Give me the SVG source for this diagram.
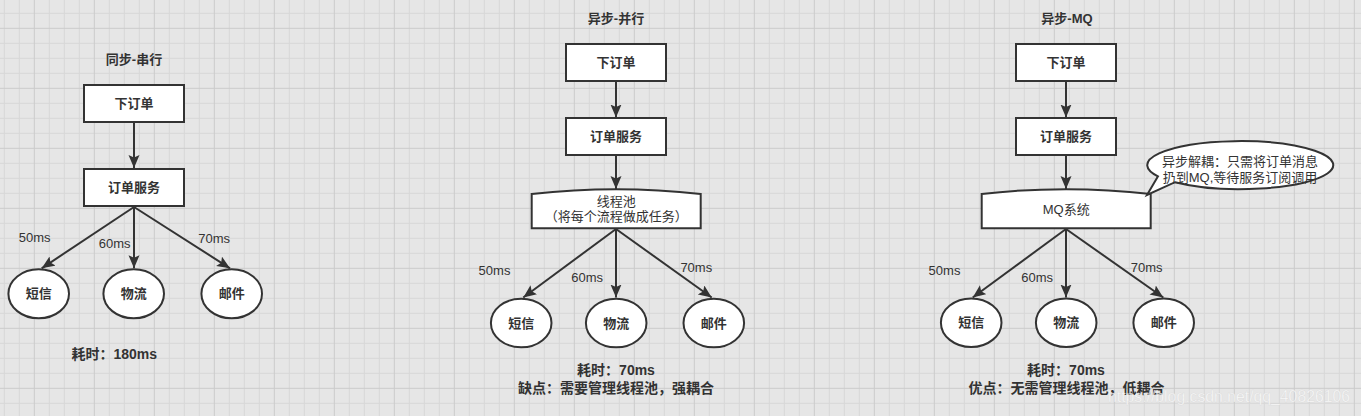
<svg xmlns="http://www.w3.org/2000/svg" width="1361" height="416" viewBox="0 0 1361 416">
<defs>
<pattern id="grid" patternUnits="userSpaceOnUse" x="33.8" y="27.8" width="60" height="60">
<rect width="60" height="60" fill="#e6e6e6"/>
<path d="M15.5,0V60M30.5,0V60M45.5,0V60M0,15.5H60M0,30.5H60M0,45.5H60" stroke="#d7d7d7" stroke-width="1" fill="none"/>
<path d="M0.5,0V60M0,0.5H60" stroke="#cbcbcb" stroke-width="1" fill="none"/>
</pattern>
<marker id="arr" markerUnits="userSpaceOnUse" markerWidth="14" markerHeight="12" refX="13" refY="5.5" orient="auto" viewBox="0 0 14 12">
<path d="M0,0 L13,5.5 L0,11 L2.5,5.5 Z" fill="#333333"/>
</marker>
</defs>
<style>
.box{fill:#ffffff;stroke:#333333;stroke-width:2}
.edge{fill:none;stroke:#333333;stroke-width:2;marker-end:url(#arr)}
text{font-family:"Liberation Sans","Noto Sans CJK SC",sans-serif;fill:#333333;text-anchor:middle}
.t{font-size:13px;font-weight:bold;dominant-baseline:central}
.n{font-size:13px;dominant-baseline:central}
.lbl{font-size:13px}
.big{font-size:14px;font-weight:bold;dominant-baseline:central}
.wm{font-size:16px;fill:#ffffff;fill-opacity:0.75;stroke:#bbbbbb;stroke-opacity:0.35;stroke-width:0.5;text-anchor:start}
</style>
<rect width="1361" height="416" fill="url(#grid)"/>

<g id="connectors">
<path class="edge" d="M134,123 L134,168"/>
<path class="edge" d="M134,207 L41.7,268.3"/>
<path class="edge" d="M134,207 L134,268.3"/>
<path class="edge" d="M134,207 L230,268.3"/>
<path class="edge" d="M616,81 L616,117.5"/>
<path class="edge" d="M616,155 L616,189"/>
<path class="edge" d="M616,229 L523.3,297.5"/>
<path class="edge" d="M616,229 L616,297.5"/>
<path class="edge" d="M616,229 L711.7,297.5"/>
<path class="edge" d="M1066,81 L1066,117.5"/>
<path class="edge" d="M1066,155 L1066,189"/>
<path class="edge" d="M1066,229 L972.7,297.5"/>
<path class="edge" d="M1066,229 L1066,297.5"/>
<path class="edge" d="M1066,229 L1163.3,297.5"/>
<text class="lbl" x="34.7" y="241.5">50ms</text>
<text class="lbl" x="114.7" y="248">60ms</text>
<text class="lbl" x="214.2" y="243.3">70ms</text>
<text class="lbl" x="494.5" y="275">50ms</text>
<text class="lbl" x="587.2" y="282">60ms</text>
<text class="lbl" x="696.3" y="272">70ms</text>
<text class="lbl" x="944.5" y="274.7">50ms</text>
<text class="lbl" x="1037.2" y="282">60ms</text>
<text class="lbl" x="1146.7" y="272">70ms</text>
</g>

<g id="sync-title"><text class="t" x="134" y="59">同步-串行</text></g>
<g id="sync-order"><rect class="box" x="84" y="85" width="100" height="37"/><text class="t" x="134" y="103.5">下订单</text></g>
<g id="sync-service"><rect class="box" x="84" y="169" width="100" height="37"/><text class="t" x="134" y="187.5">订单服务</text></g>
<g id="sync-sms"><ellipse class="box" cx="38.7" cy="293.8" rx="30.3" ry="24.5"/><text class="t" x="38.7" y="293.8">短信</text></g>
<g id="sync-logistics"><ellipse class="box" cx="133.7" cy="293.8" rx="30.3" ry="24.5"/><text class="t" x="133.7" y="293.8">物流</text></g>
<g id="sync-mail"><ellipse class="box" cx="231.7" cy="293.8" rx="30.3" ry="24.5"/><text class="t" x="231.7" y="293.8">邮件</text></g>
<g id="sync-cost"><text class="big" x="114.2" y="354">耗时：180ms</text></g>

<g id="par-title"><text class="t" x="616" y="18.5">异步-并行</text></g>
<g id="par-order"><rect class="box" x="566" y="44" width="100" height="37"/><text class="t" x="616" y="62.5">下订单</text></g>
<g id="par-service"><rect class="box" x="566" y="118" width="100" height="37"/><text class="t" x="616" y="136.5">订单服务</text></g>
<g id="par-pool"><path class="box" d="M531.7,194 Q616.2,184.3 700.7,194 L700.7,228.3 L531.7,228.3 Z"/><text class="n" x="616.2" y="201">线程池</text><text class="n" x="616.2" y="216">（将每个流程做成任务）</text></g>
<g id="par-sms"><ellipse class="box" cx="521.2" cy="323" rx="30.3" ry="24.3"/><text class="t" x="521.2" y="323">短信</text></g>
<g id="par-logistics"><ellipse class="box" cx="616.2" cy="323" rx="30.3" ry="24.3"/><text class="t" x="616.2" y="323">物流</text></g>
<g id="par-mail"><ellipse class="box" cx="713.8" cy="323" rx="30.3" ry="24.3"/><text class="t" x="713.8" y="323">邮件</text></g>
<g id="par-cost"><text class="big" x="616" y="369.5">耗时：70ms</text><text class="big" x="616" y="388">缺点：需要管理线程池，强耦合</text></g>

<g id="mq-title"><text class="t" x="1067" y="18.5">异步-MQ</text></g>
<g id="mq-order"><rect class="box" x="1016" y="44" width="100" height="37"/><text class="t" x="1066" y="62.5">下订单</text></g>
<g id="mq-service"><rect class="box" x="1016" y="118" width="100" height="37"/><text class="t" x="1066" y="136.5">订单服务</text></g>
<g id="mq-system"><path class="box" d="M981.7,194 Q1066.2,184.3 1150.7,194 L1150.7,228.3 L981.7,228.3 Z"/><text class="n" x="1066.2" y="209">MQ系统</text></g>
<g id="mq-callout"><path class="box" d="M1158,176.3 L1147,195 L1175,182.2 A93,24 0 1 0 1158,176.3 Z"/><text class="n" x="1240" y="161">异步解耦：只需将订单消息</text><text class="n" x="1240" y="177.5">扔到MQ,等待服务订阅调用</text></g>
<g id="mq-sms"><ellipse class="box" cx="971.2" cy="322.7" rx="30.3" ry="24.3"/><text class="t" x="971.2" y="322.7">短信</text></g>
<g id="mq-logistics"><ellipse class="box" cx="1066.2" cy="322.7" rx="30.3" ry="24.3"/><text class="t" x="1066.2" y="322.7">物流</text></g>
<g id="mq-mail"><ellipse class="box" cx="1163.7" cy="322.7" rx="30.3" ry="24.3"/><text class="t" x="1163.7" y="322.7">邮件</text></g>
<g id="mq-cost"><text class="big" x="1066" y="369.5">耗时：70ms</text><text class="big" x="1066.5" y="388">优点：无需管理线程池，低耦合</text></g>

<g id="watermark"><text class="wm" x="1108" y="402" textLength="242" lengthAdjust="spacingAndGlyphs">https://blog.csdn.net/qq_40826106</text></g>
</svg>
